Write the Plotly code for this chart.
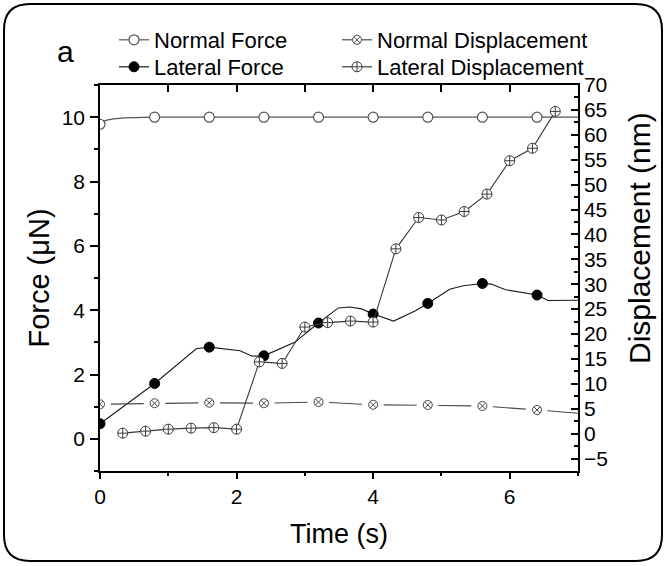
import plotly.graph_objects as go

# ---------------- data ----------------
# Normal Force (left axis, µN)
nf_line_t = [0, 0.04, 0.1, 0.2, 0.35, 0.55, 0.8, 1.6, 2.4, 3.2, 4.0, 4.8, 5.6, 6.4, 7.0]
nf_line_v = [9.78, 9.86, 9.91, 9.95, 9.98, 9.99, 10, 10, 10, 10, 10, 10, 10, 10, 10]
nf_mark_t = [0, 0.8, 1.6, 2.4, 3.2, 4.0, 4.8, 5.6, 6.4]
nf_mark_v = [9.78, 10, 10, 10, 10, 10, 10, 10, 10]

# Lateral Force (left axis, µN)
lf_line_t = [0, 0.8, 1.41, 1.6, 2.05, 2.23, 2.4, 2.85, 3.2, 3.49, 3.66, 3.83, 4.0,
             4.3, 4.62, 4.8, 5.12, 5.32, 5.6, 5.73, 5.93, 6.2, 6.4, 6.56, 6.95, 7.0]
lf_line_v = [0.47, 1.72, 2.8, 2.85, 2.74, 2.57, 2.58, 3.0, 3.6, 4.07, 4.1, 4.04, 3.88,
             3.66, 3.98, 4.21, 4.65, 4.76, 4.83, 4.81, 4.64, 4.55, 4.47, 4.3, 4.31, 4.31]
lf_mark_t = [0, 0.8, 1.6, 2.4, 3.2, 4.0, 4.8, 5.6, 6.4]
lf_mark_v = [0.47, 1.72, 2.85, 2.58, 3.6, 3.88, 4.21, 4.83, 4.47]

# Normal Displacement (right axis, nm)
nd_line_t = [0, 0.8, 1.6, 2.4, 3.2, 4.0, 4.8, 5.6, 6.4, 7.0]
nd_line_v = [5.9, 6.1, 6.2, 6.1, 6.35, 5.8, 5.75, 5.55, 4.75, 4.1]
nd_mark_t = [0, 0.8, 1.6, 2.4, 3.2, 4.0, 4.8, 5.6, 6.4]
nd_mark_v = [5.9, 6.1, 6.2, 6.1, 6.35, 5.8, 5.75, 5.55, 4.75]

# Lateral Displacement (right axis, nm)
ld_t = [0.333, 0.667, 1.0, 1.333, 1.667, 2.0, 2.333, 2.667, 3.0, 3.333,
        3.667, 4.0, 4.333, 4.667, 5.0, 5.333, 5.667, 6.0, 6.333, 6.667]
ld_v = [0.1, 0.5, 0.9, 1.1, 1.2, 0.9, 14.4, 14.1, 21.4, 22.3,
        22.6, 22.4, 37.1, 43.4, 42.9, 44.6, 48.1, 54.8, 57.3, 64.7]

x_ticks = [0, 2, 4, 6]
y1_ticks = [0, 2, 4, 6, 8, 10]
y2_ticks = [-5, 0, 5, 10, 15, 20, 25, 30, 35, 40, 45, 50, 55, 60, 65, 70]

# ---------------- style ----------------
FONT = "Liberation Sans, Arial, sans-serif"
W, H = 667, 566
ML, MR, MT, MB = 100, 89, 85, 95
PW, PH = W - ML - MR, H - MT - MB

NF_COL = "#555555"
LF_COL = "#1a1a1a"
ND_COL = "#4a4a4a"
LD_COL = "#3a3a3a"


def px(xp):
    return (xp - ML) / PW


def py(yp):
    return (H - MB - yp) / PH


fig = go.Figure()

# Normal Force
fig.add_trace(go.Scatter(x=nf_line_t, y=nf_line_v, mode="lines",
                         line=dict(color=NF_COL, width=1.3), showlegend=False, hoverinfo="skip"))
fig.add_trace(go.Scatter(x=nf_mark_t, y=nf_mark_v, mode="markers",
                         marker=dict(symbol="circle", size=10, color="white",
                                     line=dict(color=NF_COL, width=1.2)), showlegend=False))
# Lateral Force
fig.add_trace(go.Scatter(x=lf_line_t, y=lf_line_v, mode="lines",
                         line=dict(color=LF_COL, width=1.1), showlegend=False, hoverinfo="skip"))
fig.add_trace(go.Scatter(x=lf_mark_t, y=lf_mark_v, mode="markers",
                         marker=dict(symbol="circle", size=10, color="black",
                                     line=dict(color="black", width=1)), showlegend=False))
# Normal Displacement
fig.add_trace(go.Scatter(x=nd_line_t, y=nd_line_v, mode="lines", yaxis="y2",
                         line=dict(color=ND_COL, width=1.1, dash="0px,10.8px,33px,10.8px"),
                         showlegend=False, hoverinfo="skip"))
fig.add_trace(go.Scatter(x=nd_mark_t, y=nd_mark_v, mode="markers", yaxis="y2",
                         marker=dict(symbol="circle-x", size=9, color="white",
                                     line=dict(color=ND_COL, width=1)), showlegend=False))
# Lateral Displacement
fig.add_trace(go.Scatter(x=ld_t, y=ld_v, mode="lines+markers", yaxis="y2",
                         line=dict(color=LD_COL, width=1.1),
                         marker=dict(symbol="circle-cross", size=10, color="white",
                                     line=dict(color=LD_COL, width=1)), showlegend=False))

# legend-only entries, one legend box per entry (2 x 2 arrangement)
leg = [
    ("Normal Force", dict(symbol="circle", size=10, color="white", line=dict(color=NF_COL, width=1.2)), NF_COL, "legend", 114, 40),
    ("Lateral Force", dict(symbol="circle", size=10, color="black", line=dict(color="black", width=1)), LF_COL, "legend2", 114, 67),
    ("Normal Displacement", dict(symbol="circle-x", size=9, color="white", line=dict(color=ND_COL, width=1)), ND_COL, "legend3", 337, 40),
    ("Lateral Displacement", dict(symbol="circle-cross", size=10, color="white", line=dict(color=LD_COL, width=1)), LD_COL, "legend4", 337, 67),
]
legend_layout = {}
for name, mk, col, lg, lx, ly in leg:
    fig.add_trace(go.Scatter(x=[None], y=[None], mode="lines+markers", name=name, legend=lg,
                             marker=mk, line=dict(color=col, width=1.2)))
    legend_layout[lg] = dict(x=px(lx), xanchor="left", y=py(ly), yanchor="middle",
                             orientation="v", font=dict(family=FONT, size=22, color="black"),
                             bgcolor="rgba(0,0,0,0)", borderwidth=0, itemclick=False,
                             itemdoubleclick=False)

tickfont = dict(family=FONT, size=21, color="black")

fig.update_layout(
    template="none",
    width=W, height=H,
    margin=dict(l=ML, r=MR, t=MT, b=MB, autoexpand=False),
    paper_bgcolor="white", plot_bgcolor="white",
    font=dict(family=FONT, color="black"),
    showlegend=True,
    **legend_layout,
    xaxis=dict(range=[0, 7], tickvals=x_ticks, ticks="outside", ticklen=6, tickwidth=1.5,
               tickcolor="black",
               minor=dict(dtick=1, tick0=0, ticks="outside", ticklen=3, tickwidth=1.5,
                          tickcolor="black", showgrid=False),
               showline=True, linecolor="black", linewidth=1.5, mirror=True,
               showgrid=False, zeroline=False, tickfont=tickfont, automargin=False,
               title=dict(text="Time (s)", font=dict(family=FONT, size=27, color="black"), standoff=17)),
    xaxis2=dict(range=[0, 7], overlaying="x", side="top", dtick=1, tick0=0, ticks="inside",
                ticklen=7, tickwidth=1.5, tickcolor="black", showticklabels=False,
                showline=False, showgrid=False, zeroline=False, automargin=False),
    yaxis=dict(range=[-1, 11], tickvals=y1_ticks, ticks="outside", ticklen=8, tickwidth=1.5,
               tickcolor="black",
               minor=dict(dtick=1, tick0=0, ticks="outside", ticklen=4, tickwidth=1.5,
                          tickcolor="black", showgrid=False),
               showline=True, linecolor="black", linewidth=1.5,
               showgrid=False, zeroline=False, tickfont=tickfont, ticklabelstandoff=1,
               automargin=False,
               title=dict(text="Force (μN)", font=dict(family=FONT, size=29, color="black"), standoff=4)),
    yaxis2=dict(range=[-7.5, 70], tickvals=y2_ticks, overlaying="y", side="right",
                ticks="inside", ticklen=7, tickwidth=1.5, tickcolor="black",
                minor=dict(dtick=2.5, tick0=0, ticks="inside", ticklen=4, tickwidth=1.5,
                           tickcolor="black", showgrid=False),
                showline=True, linecolor="black", linewidth=1.5,
                showgrid=False, zeroline=False, tickfont=tickfont, automargin=False),
)

# make the top tick axis exist (needs a trace)
fig.add_trace(go.Scatter(x=[None], y=[None], xaxis="x2", showlegend=False, hoverinfo="skip"))

# right axis title (placed above centre, as in the original)
fig.add_annotation(text="Displacement (nm)", xref="paper", yref="paper",
                   x=px(639), y=py(238), xanchor="center", yanchor="middle", textangle=-90,
                   showarrow=False, font=dict(family=FONT, size=30, color="black"))

# panel label
fig.add_annotation(text="a", xref="paper", yref="paper",
                   x=px(65), y=py(52), xanchor="center", yanchor="middle",
                   showarrow=False, font=dict(family=FONT, size=30, color="black"))

# rounded frame around whole figure
L, R, T, B, r = 4, 662, 4, 561, 26
path = (f"M {px(L)},{py(T + r)} Q {px(L)},{py(T)} {px(L + r)},{py(T)} "
        f"L {px(R - r)},{py(T)} Q {px(R)},{py(T)} {px(R)},{py(T + r)} "
        f"L {px(R)},{py(B - r)} Q {px(R)},{py(B)} {px(R - r)},{py(B)} "
        f"L {px(L + r)},{py(B)} Q {px(L)},{py(B)} {px(L)},{py(B - r)} Z")
fig.add_shape(type="path", path=path, xref="paper", yref="paper",
              line=dict(color="black", width=2), layer="above")

fig.write_html("out.html", config={"displayModeBar": False},
               post_script="document.body.style.margin='0px';")
